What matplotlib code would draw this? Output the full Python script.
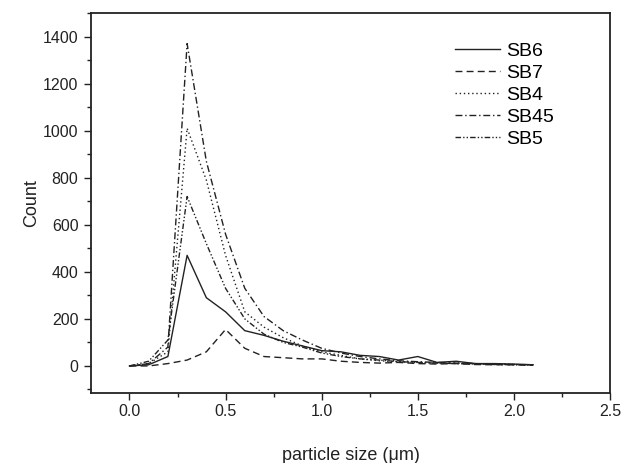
import matplotlib.pyplot as plt
from matplotlib.ticker import MultipleLocator

plt.rcParams['font.family'] = ['Liberation Sans', 'DejaVu Sans']

# particle size bins (um)
size = [0.0, 0.1, 0.2, 0.3, 0.4, 0.5, 0.6, 0.7, 0.8, 0.9, 1.0,
        1.1, 1.2, 1.3, 1.4, 1.5, 1.6, 1.7, 1.8, 1.9, 2.0, 2.1]

sb6 = [0, 5, 40, 470, 290, 230, 150, 130, 105, 85, 65,
       60, 45, 40, 25, 40, 15, 20, 10, 10, 8, 5]
sb7 = [0, 0, 10, 25, 60, 155, 75, 40, 35, 30, 30,
       20, 15, 12, 15, 10, 8, 10, 6, 5, 5, 3]
sb4 = [0, 10, 60, 1010, 790, 470, 230, 165, 120, 85, 60,
       45, 30, 22, 18, 15, 12, 12, 10, 8, 6, 5]
sb45 = [0, 10, 80, 1370, 870, 560, 330, 210, 150, 110, 75,
        55, 40, 30, 22, 18, 15, 12, 10, 8, 6, 5]
sb5 = [0, 20, 110, 720, 520, 330, 200, 135, 100, 80, 55,
       40, 30, 25, 18, 15, 12, 10, 8, 6, 5, 4]

names = ["SB6", "SB7", "SB4", "SB45", "SB5"]
series = [sb6, sb7, sb4, sb45, sb5]
styles = ['-', (0, (5, 3)), (0, (1, 2)), (0, (5, 2, 1, 2)),
          (0, (4, 1.5, 1, 1.5, 1, 1.5))]

fig = plt.figure(figsize=(6.22, 4.63), dpi=100)
ax = fig.add_axes([91 / 622, 1 - 393 / 463, 519 / 622, 380 / 463])

for name, ys, ls in zip(names, series, styles):
    ax.plot(size, ys, color='#222222', linestyle=ls, linewidth=1.0, label=name)

ax.set_xlim(-0.2, 2.5)
ax.set_ylim(-115, 1500)
ax.xaxis.set_minor_locator(MultipleLocator(0.25))
ax.yaxis.set_minor_locator(MultipleLocator(100))
ax.set_xticks([0.0, 0.5, 1.0, 1.5, 2.0, 2.5])
ax.set_xticklabels(["0.0", "0.5", "1.0", "1.5", "2.0", "2.5"])
ax.set_yticks([0, 200, 400, 600, 800, 1000, 1200, 1400])

ax.tick_params(which='major', direction='out', length=5, width=1,
               labelsize=11.5, colors='#222222')
ax.tick_params(axis='x', which='major', pad=3)
ax.tick_params(axis='y', which='major', pad=4)
ax.tick_params(which='minor', direction='out', length=3, width=1,
               colors='#222222')
ax.tick_params(top=False, right=False, which='both')

for s in ax.spines.values():
    s.set_linewidth(1.3)
    s.set_color('#222222')

ax.set_xlabel("particle size (\u03bcm)", fontsize=13, color='#222222', labelpad=20)
ax.set_ylabel("Count", fontsize=13, color='#222222', labelpad=2)

ax.legend(loc='upper left', frameon=False, fontsize=14, handlelength=2.3,
          handletextpad=0.36, labelspacing=0.22, borderpad=0, borderaxespad=0,
          bbox_to_anchor=(0.701, 0.922))

fig.savefig("out.png", dpi=100)
